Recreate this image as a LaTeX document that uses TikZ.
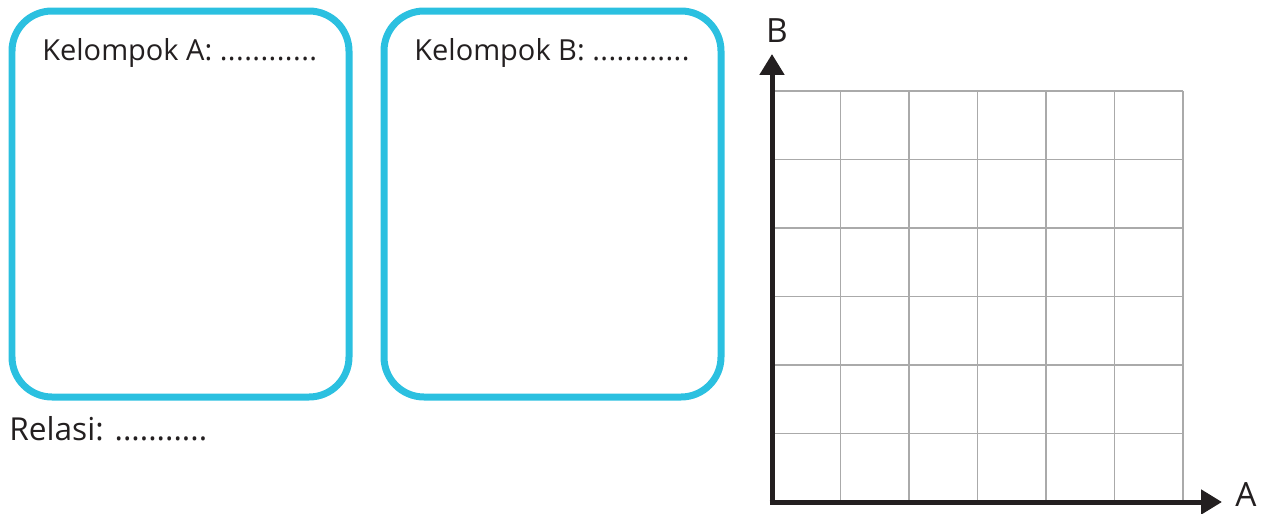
\documentclass[tikz,border=0pt]{standalone}
\usepackage{fontspec}
\setmainfont{Open Sans}
\usetikzlibrary{arrows.meta}
\definecolor{boxblue}{RGB}{43,192,224}
\definecolor{ink}{RGB}{35,31,32}
\definecolor{gridgray}{RGB}{170,170,170}
\newcommand{\leaderdots}[1]{{\addfontfeature{LetterSpace=1.5}#1}}
\begin{document}
\begin{tikzpicture}[x=0.02cm,y=-0.02cm,
  groupbox/.style={draw=boxblue,line width=0.14cm,rounded corners=0.8cm},
  lbl/.style={anchor=base west,inner sep=0pt,text=ink,font=\fontsize{16.5pt}{20pt}\selectfont},
  axlbl/.style={anchor=base,inner sep=0pt,text=ink,font=\fontsize{19pt}{23pt}\selectfont},
  gridline/.style={draw=gridgray,line width=0.03cm},
  axis/.style={draw=ink,line width=0.1cm,-{Triangle[length=0.42cm,width=0.48cm]}}]
\useasboundingbox (0,0) rectangle (1262,514);
% group boxes
\draw[groupbox] (12,11) rectangle (349,397);
\draw[groupbox] (384,11) rectangle (721,397);
\node[lbl] (ka) at (42,60) {Kelompok A: \leaderdots{............}};
\node[lbl] (kb) at (414,60) {Kelompok B: \leaderdots{............}};
\node[lbl,font=\fontsize{18pt}{22pt}\selectfont] (rel) at (9,440) {Relasi: ...........};
% grid
\foreach \i in {1,...,6} {
  \draw[gridline] (772+68.5*\i,91) -- (772+68.5*\i,502);
}
\foreach \j in {0,...,5} {
  \draw[gridline] (772,91+68.5*\j) -- (1183,91+68.5*\j);
}
% axes
\coordinate (O) at (772,502);
\coordinate (Btip) at (772,54);
\coordinate (Atip) at (1222,502);
\draw[axis] ([yshift=-0.05cm]O) -- (Btip);
\draw[axis] ([xshift=-0.05cm]O) -- (Atip);
\node[axlbl] (labB) at (777,42) {B};
\node[axlbl] (labA) at (1246,506) {A};
\end{tikzpicture}
\end{document}
